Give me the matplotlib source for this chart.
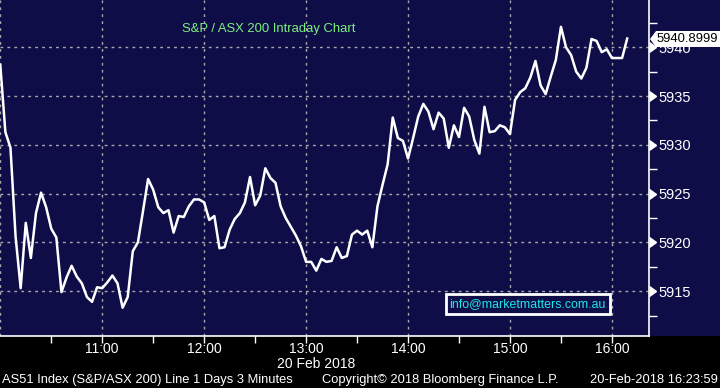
import matplotlib
matplotlib.use("Agg")
import matplotlib.pyplot as plt
import matplotlib.patches as mpatches
import pandas as pd

# ---- data (3-minute bars, S&P/ASX 200, 20 Feb 2018) ----
start_time = "2018-02-20 10:00"
bar_minutes = 3
values = [
    5938.2, 5931.3, 5929.7, 5920.6, 5915.3, 5922.0, 5918.4, 5923.0, 5925.1, 5923.6,
    5921.4, 5920.5, 5914.9, 5916.4, 5917.6, 5916.5, 5915.8, 5914.4, 5913.9, 5915.4,
    5915.3, 5915.9, 5916.6, 5915.8, 5913.3, 5914.4, 5919.1, 5920.0, 5923.2, 5926.5,
    5925.4, 5923.6, 5923.0, 5923.3, 5921.0, 5922.7, 5922.6, 5923.7, 5924.4, 5924.4,
    5924.1, 5922.3, 5922.7, 5919.4, 5919.5, 5921.3, 5922.4, 5923.0, 5924.1, 5926.7,
    5923.8, 5924.8, 5927.6, 5926.6, 5926.1, 5923.7, 5922.5, 5921.6, 5920.7, 5919.6,
    5918.0, 5918.0, 5917.1, 5918.3, 5918.0, 5918.1, 5919.5, 5918.4, 5918.6, 5920.8,
    5921.2, 5920.8, 5921.2, 5919.5, 5923.7, 5925.9, 5928.0, 5932.8, 5930.7, 5930.4,
    5928.6, 5930.7, 5932.9, 5934.2, 5933.4, 5931.6, 5933.3, 5932.7, 5929.7, 5932.0,
    5930.8, 5933.8, 5932.9, 5930.5, 5929.1, 5933.9, 5931.3, 5931.4, 5932.0, 5931.8,
    5931.1, 5934.6, 5935.4, 5935.8, 5936.9, 5938.6, 5936.1, 5935.2, 5937.0, 5938.7,
    5942.1, 5940.0, 5939.2, 5937.5, 5936.8, 5937.9, 5940.85, 5940.65, 5939.5, 5939.8,
    5938.9, 5938.9, 5938.9, 5940.8999,
]
y_ticks = [5915, 5920, 5925, 5930, 5935, 5940]
x_tick_labels = ["11:00", "12:00", "13:00", "14:00", "15:00", "16:00"]
last_label = "5940.8999"
title = "S&P / ASX 200 Intraday Chart"
date_label = "20 Feb 2018"
footer_left = "AS51 Index (S&P/ASX 200) Line 1 Days 3 Minutes"
footer_mid = "Copyright\u00a9 2018 Bloomberg Finance L.P."
footer_right = "20-Feb-2018 16:23:59"
watermark = "info@marketmatters.com.au"

NAVY = "#0f0d48"
W, H = 720, 388
FONT = "Liberation Sans"

times = pd.date_range(start=start_time, periods=len(values), freq=f"{bar_minutes}min")

fig = plt.figure(figsize=(W / 100, H / 100), dpi=100, facecolor="black")
# navy panel behind plot and right label area
bg = mpatches.Rectangle((0, 1 - 336 / H), 1, 336 / H, transform=fig.transFigure,
                        facecolor=NAVY, edgecolor="none", zorder=-5)
fig.patches.append(bg)

ax = fig.add_axes([0, 1 - 336 / H, 649 / W, 336 / H])
ax.set_facecolor(NAVY)
ax.plot(times, values, color="white", lw=1.8, zorder=3)

x0 = pd.Timestamp("2018-02-20 09:59:50")
x1 = pd.Timestamp("2018-02-20 16:21:50")
ax.set_xlim(x0, x1)
ax.set_ylim(5910.4, 5944.85)

# y axis on right
ax.yaxis.tick_right()
ax.set_yticks(y_ticks)
ax.set_yticks([v + 2.5 for v in [5910] + y_ticks], minor=True)
ax.tick_params(axis="y", which="major", length=7, width=1, color="white", labelcolor="white",
               labelsize=10.5, pad=0, direction="out")
ax.tick_params(axis="y", which="minor", length=6, width=1, color="white", direction="out")
for t in ax.yaxis.get_major_ticks():
    t.tick2line.set_marker(9)  # caret right, base at spine
    t.tick2line.set_markersize(7)

# x axis
hours = pd.date_range("2018-02-20 11:00", periods=6, freq="60min")
halfs = pd.date_range("2018-02-20 10:30", periods=6, freq="60min")
ax.set_xticks(hours)
ax.set_xticklabels(x_tick_labels)
ax.set_xticks(halfs, minor=True)
ax.tick_params(axis="x", which="both", length=5, width=1, color="white", labelcolor="white",
               labelsize=10, pad=-1, direction="out")
for lab in ax.get_xticklabels() + ax.get_yticklabels():
    lab.set_fontfamily(FONT)

# grid
for h in [pd.Timestamp("2018-02-20 10:00")] + list(hours):
    ax.axvline(h, color="#a8a8a8", lw=1, ls=(0, (2, 3)), zorder=1)
for v in y_ticks:
    ax.axhline(v, color="#a8a8a8", lw=1, ls=(0, (2, 3)), zorder=1)

for s in ["top", "left"]:
    ax.spines[s].set_visible(False)
for s in ["right", "bottom"]:
    ax.spines[s].set_color("white")
    ax.spines[s].set_linewidth(1.2)

# title
fig.text(182 / W, 1 - 29 / H, title, color="#7ef07e", fontsize=9.4, va="center", ha="left",
         family=FONT)

# watermark box
ax.text(pd.Timestamp("2018-02-20 15:10:26"), 5913.7, watermark, color="#1de8e8",
        fontsize=8.9, ha="center", va="center", family=FONT, zorder=5,
        bbox=dict(boxstyle="square,pad=0.3", facecolor=NAVY, edgecolor="white", lw=2))

# last price label (white tag pointing left)
px = lambda x, y: (x / W, 1 - y / H)
tag = mpatches.Polygon([px(650, 39), px(656, 31), px(720, 31), px(720, 47), px(656, 47)],
                       closed=True, transform=fig.transFigure, facecolor="white",
                       edgecolor="none", zorder=10)
fig.patches.append(tag)
fig.text(656.5 / W, 1 - 39.5 / H, last_label, color="black", fontsize=9.4, va="center",
         ha="left", family=FONT, zorder=11)

# bottom texts
fig.text(316 / W, 1 - 363.5 / H, date_label, color="white", fontsize=10, ha="center",
         va="center", family=FONT)
fig.text(2 / W, 1 - 380 / H, footer_left, color="white", fontsize=9.3, ha="left",
         va="center", family=FONT)
fig.text(322 / W, 1 - 380 / H, footer_mid, color="white", fontsize=9.3, ha="left",
         va="center", family=FONT)
fig.text(718 / W, 1 - 380 / H, footer_right, color="white", fontsize=9.3, ha="right",
         va="center", family=FONT)

fig.savefig("out.png", dpi=100, facecolor="black")
